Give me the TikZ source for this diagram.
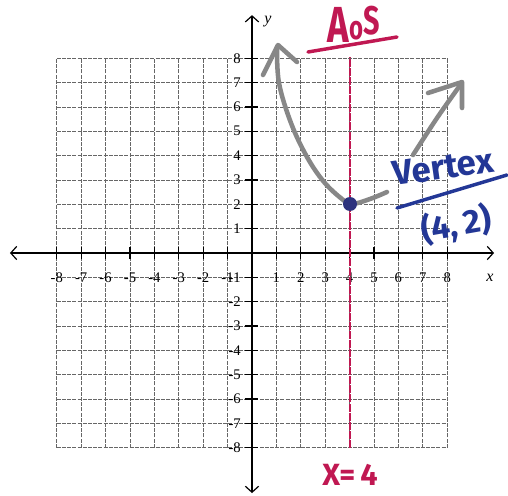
\documentclass[tikz,border=0pt]{standalone}
\usepackage{fontspec}
\usetikzlibrary{arrows.meta}
\newfontfamily\tickfont{Liberation Serif}
\newfontfamily\handfont{Fira Sans}
\definecolor{aosred}{RGB}{192,24,82}
\definecolor{vblue}{RGB}{35,55,150}
\definecolor{dotblue}{RGB}{45,50,125}
\definecolor{curvegray}{RGB}{135,135,135}
\tikzset{
  gridline/.style={black!60, line width=0.5pt, dash pattern=on 3pt off 0.9pt},
  axisline/.style={black, line width=1.1pt},
  axisarrows/.style={{Straight Barb[length=4.5pt,width=10pt,line width=0.9pt]}-{Straight Barb[length=4.5pt,width=10pt,line width=0.9pt]}},
  tickmark/.style={black, line width=0.9pt},
  ticklabel/.style={font=\tickfont\fontsize{11}{13}\selectfont, inner sep=0pt},
  axislabel/.style={font=\tickfont\itshape\fontsize{12}{14}\selectfont, inner sep=0pt},
  aosline/.style={aosred, line width=1.6pt, dash pattern=on 6pt off 0.8pt},
  parab/.style={curvegray, line width=3.4pt, line cap=round, line join=round},
  redhand/.style={aosred, inner sep=0pt},
  bluehand/.style={vblue, inner sep=0pt},
  handline/.style={line width=2.6pt, line cap=round},
  vdotstyle/.style={circle, fill=dotblue, minimum size=10.5pt, inner sep=0pt},
}
\begin{document}
\begin{tikzpicture}[x=0.75pt,y=-0.75pt]
\useasboundingbox (0,0) rectangle (508,496);
\fill[white] (0,0) rectangle (508,496);
% ---- grid and axes in graph coordinates
\begin{scope}[shift={(252,253)}, x=18.3pt, y=18.26pt]
  \foreach \i in {-8,...,8} {
    \draw[gridline] (\i,-8) -- (\i,8);
    \draw[gridline] (-8,\i) -- (8,\i);
  }
  \coordinate (xleft) at (-9.92,0);
  \coordinate (xright) at (9.92,0);
  \coordinate (ybot) at (0,-9.86);
  \coordinate (ytop) at (0,9.77);
  \draw[axisline, axisarrows] (xleft) -- (xright);
  \draw[axisline, axisarrows] (ybot) -- (ytop);
  \foreach \i in {-8,...,-1,1,2,...,8} {
    \draw[tickmark] (\i,-0.25) -- (\i,0.25);
    \draw[tickmark] (-0.3,\i) -- (0.25,\i);
    \node[ticklabel] (xlab\i) at (\i,-1.03) {\i};
    \node[ticklabel, anchor=east] (ylab\i) at (-0.45,\i) {\i};
  }
  % axis of symmetry
  \coordinate (aosbot) at (4,-8);
  \coordinate (aostop) at (4,8.05);
  \draw[aosline] (aosbot) -- (aostop);
\end{scope}
\node[axislabel] (xname) at (490,278) {x};
\node[axislabel] (yname) at (268,22) {y};
% ---- parabola (hand drawn)
\draw[parab] plot[smooth, tension=0.6] coordinates {(277,47) (279,83) (291,123) (307,157) (324,182) (342,199) (352,204) (370,199) (387,192)};
\draw[parab] plot[smooth, tension=0.6] coordinates {(413,155) (437,118) (461,84)};
\draw[parab] (263,75) -- (278,45) -- (297,62);
\draw[parab] (428,93) -- (462,82) -- (462,108);
% vertex dot
\node[vdotstyle] (vdot) at (350,204) {};
% ---- AoS label
\node[redhand, xscale=0.72] (aos) at (354,24) {\handfont\bfseries\fontsize{38}{38}\selectfont A\raisebox{2pt}{\fontsize{25}{25}\selectfont o}\raisebox{6pt}{\fontsize{30}{30}\selectfont S}};
\draw[aosred, handline] (308,52) -- (397,37);
% ---- Vertex label
\node[bluehand, rotate=8] (vertex) at (443,167) {\handfont\bfseries\fontsize{26}{26}\selectfont Vertex};
\draw[vblue, handline] (397,208) -- (507,175);
\node[bluehand, rotate=10] (vcoord) at (456,225) {\handfont\bfseries\fontsize{25}{25}\selectfont (4,\,2)};
% ---- x = 4 label
\node[redhand] (xeq) at (350,475) {\handfont\bfseries\fontsize{23}{23}\selectfont X=\,4};
\end{tikzpicture}
\end{document}
